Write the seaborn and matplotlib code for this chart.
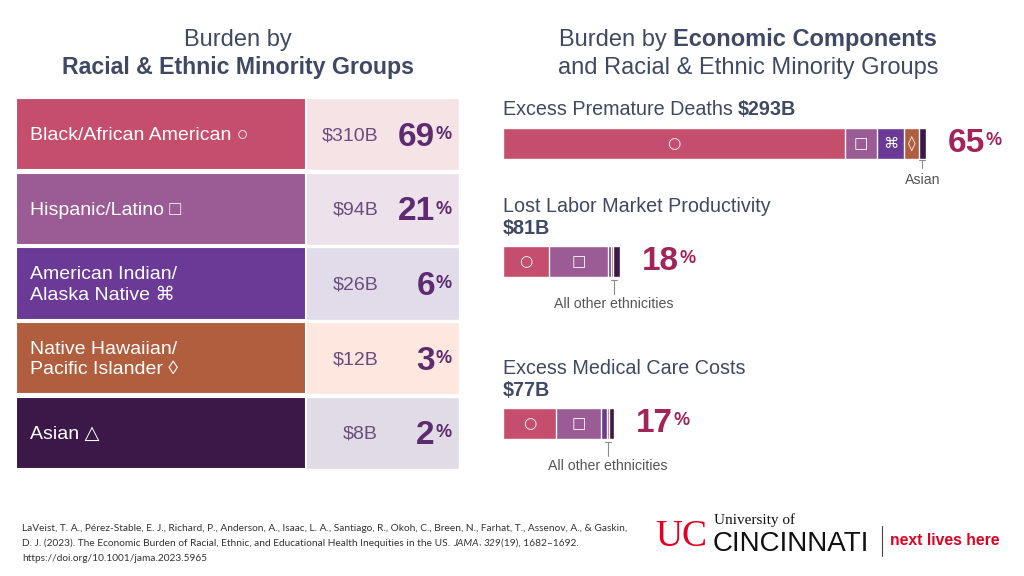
import matplotlib
matplotlib.use('Agg')
import numpy as np
import pandas as pd
import seaborn as sns
import matplotlib.pyplot as plt
from matplotlib.transforms import blended_transform_factory

sns.set_theme(style='white')
plt.rcParams['font.family'] = ['Liberation Sans', 'DejaVu Sans']

# left table
groups = ['Black/African American ○', 'Hispanic/Latino □', 'American Indian/\nAlaska Native ⌘',
          'Native Hawaiian/\nPacific Islander ◊', 'Asian △']
symbols = ['○', '□', '⌘', '◊', '△']
burden = ['$310B', '$94B', '$26B', '$12B', '$8B']
share = [69, 21, 6, 3, 2]
dark = ['#c54e6c', '#9b5b94', '#6a3a96', '#b15e3e', '#3b1847']
light = ['#f6e3e6', '#ede1eb', '#e2dbea', '#fde7df', '#e1dbe5']

# right stacked bars ($B by group, same order as groups)
components = ['Excess Premature Deaths', 'Lost Labor Market Productivity', 'Excess Medical Care Costs']
comp_total = ['$293B', '$81B', '$77B']
comp_share = [65, 18, 17]
deaths = [237, 22, 19, 10, 5]
labor = [32, 41, 2, 1.5, 4.5]
medical = [37, 31, 4, 1.5, 3.5]

head_col = '#3f4963'
W, H = 1024, 576
fig = plt.figure(figsize=(10.24, 5.76), dpi=100)
fig.patch.set_facecolor('white')


def box(l, t, w, h):
    return [l / W, 1 - (t + h) / H, w / W, h / H]


over = fig.add_axes([0, 0, 1, 1])
over.set_xlim(0, W)
over.set_ylim(H, 0)
over.axis('off')
over.set_zorder(10)
rend = fig.canvas.get_renderer()


def text_run(x, y, parts, size, color, center=False, **kw):
    # parts: (text, weight, style, gap_before)
    ts = [over.text(0, y, s, fontsize=size, color=color, fontweight=w, fontstyle=st,
                    va='baseline', ha='left', **kw) for s, w, st, g in parts]
    widths = [t.get_window_extent(rend).width for t in ts]
    sp = size * 0.28 * 100 / 72
    total = sum(widths) + sum(sp for p in parts[1:] if p[3])
    x0 = x - total / 2 if center else x
    for t, wd, p in zip(ts, widths, parts):
        if p[3] and t is not ts[0]:
            x0 += sp
        t.set_x(x0)
        x0 += wd
    return ts


# titles
text_run(238, 46, [('Burden by', 'normal', 'normal', 0)], 17, head_col, center=True)
text_run(238, 74, [('Racial & Ethnic Minority Groups', 'bold', 'normal', 0)], 16.7, head_col, center=True)
text_run(748, 46, [('Burden by', 'normal', 'normal', 0), ('Economic Components', 'bold', 'normal', 1)],
         17, head_col, center=True)
text_run(748, 74, [('and Racial & Ethnic Minority Groups', 'normal', 'normal', 0)], 17, head_col, center=True)

# table
tab = fig.add_axes(box(16, 97, 443, 373))
df_tab = pd.DataFrame({'group': groups, 'full': 443, 'label': 290})
sns.barplot(data=df_tab, x='full', y='group', hue='group', palette=light, width=0.97,
            saturation=1, legend=False, ax=tab)
sns.barplot(data=df_tab, x='label', y='group', hue='group', palette=dark, width=0.97,
            saturation=1, legend=False, edgecolor='white', linewidth=1.5, ax=tab)
tab.set_xlim(0, 443)
tab.set_ylim(4.5, -0.5)
tab.axis('off')
for i in range(len(groups)):
    tab.text(14, i + 0.02, groups[i], color='white', fontsize=14, va='center', ha='left', linespacing=1.25)
    tab.text(362, i + 0.02, burden[i], color='#6b4d7d', fontsize=14, va='center', ha='right')
    t = tab.text(419, i + 0.04, str(share[i]), color='#5c2b70', fontsize=24, fontweight='bold',
                 va='center', ha='right')
    tab.annotate('%', xy=(1, 1), xycoords=t, xytext=(0.5, -3), textcoords='offset points',
                 fontsize=13, fontweight='bold', color='#5c2b70', va='top', ha='left')

# stacked bars
bar_tops = [128, 246, 408]
heads = [[], [(components[1], 212, 'normal'), (comp_total[1], 234, 'bold')],
         [(components[2], 374, 'normal'), (comp_total[2], 396, 'bold')]]
brackets = [(160, 168, 180, 'Asian'), (280, 294, 304, 'All other ethnicities'),
            (442, 456, 466, 'All other ethnicities')]
for k, vals in enumerate([deaths, labor, medical]):
    ax = fig.add_axes(box(503, bar_tops[k], 433, 31))
    cum = np.cumsum(vals)
    for i in range(len(vals) - 1, -1, -1):
        sns.barplot(x=[cum[i]], y=[components[k]], color=dark[i], width=1, saturation=1,
                    edgecolor='white', linewidth=1, ax=ax)
    ax.set_xlim(0, 300)
    ax.set_ylim(0.5, -0.5)
    ax.axis('off')
    starts = cum - np.array(vals)
    for i in range(len(vals)):
        if vals[i] >= 8:
            ax.text(starts[i] + vals[i] / 2, 0, symbols[i], color='white', fontsize=11,
                    family='DejaVu Sans', ha='center', va='center')
    tr = blended_transform_factory(ax.transData, ax.transAxes)
    t = ax.text(cum[-1] + 15, 0.5, str(comp_share[k]), transform=tr, fontsize=24, fontweight='bold',
                color='#a2245b', va='center', ha='left', clip_on=False)
    ax.annotate('%', xy=(1, 1), xycoords=t, xytext=(0.5, -3), textcoords='offset points',
                fontsize=13, fontweight='bold', color='#a2245b', va='top', ha='left')

    # headers
    if k == 0:
        h = over.text(503, 115, components[0], fontsize=14.2, color=head_col, va='baseline')
        over.annotate(comp_total[0], xy=(1, 0), xycoords=h, xytext=(3.8, 0), textcoords='offset points',
                      fontsize=14.2, color=head_col, fontweight='bold', va='bottom', ha='left')
    else:
        for s, y, w in heads[k]:
            over.text(503, y, s, fontsize=14.2, color=head_col, fontweight=w, va='baseline')

    # bracket under the small groups
    bx = starts[4] + vals[4] / 2 if k == 0 else (cum[1] + cum[-1]) / 2
    y0, y1, yl, lab = brackets[k]
    trb = blended_transform_factory(ax.transData, over.transData)
    over.plot([bx, bx], [y0, y1], color='#8c8c8c', lw=0.8, transform=trb)
    over.plot([bx - 2, bx + 2], [y0, y0], color='#8c8c8c', lw=0.8, transform=trb)
    over.text(bx, yl, lab, transform=trb, fontsize=10.2, color='#555555', ha='center', va='center')

# citation
cite_kw = dict(family=['Lato', 'DejaVu Sans'])
cs = 7.25
text_run(22, 531, [('LaVeist, T. A., Pérez-Stable, E. J., Richard, P., Anderson, A., Isaac, L. A., Santiago, R., '
                    'Okoh, C., Breen, N., Farhat, T., Assenov, A., & Gaskin,', 'normal', 'normal', 0)],
         cs, '#333333', **cite_kw)
text_run(22, 546, [('D. J. (2023). The Economic Burden of Racial, Ethnic, and Educational Health Inequities in the US.',
                    'normal', 'normal', 0), ('JAMA', 'normal', 'italic', 1), (',', 'normal', 'normal', 0),
                   ('329', 'normal', 'italic', 1), ('(19), 1682–1692.', 'normal', 'normal', 0)],
         cs, '#333333', **cite_kw)
text_run(22, 561, [('https://doi.org/10.1001/jama.2023.5965', 'normal', 'normal', 0)], cs, '#333333', **cite_kw)

# logo
red = '#e00122'
over.text(681, 537, 'UC', fontsize=27, color=red, family='Liberation Serif', ha='center', va='center')
over.text(714, 524, 'University of', fontsize=11, color='#111111', family='Liberation Serif', va='baseline')
over.text(713, 551, 'CINCINNATI', fontsize=20, color='#111111', va='baseline')
over.plot([882, 882], [526, 556], color='#444444', lw=0.8)
over.text(890, 545, 'next lives here', fontsize=11.3, color=red, fontweight='bold', va='baseline')

fig.savefig('out.png', dpi=100, facecolor='white')
